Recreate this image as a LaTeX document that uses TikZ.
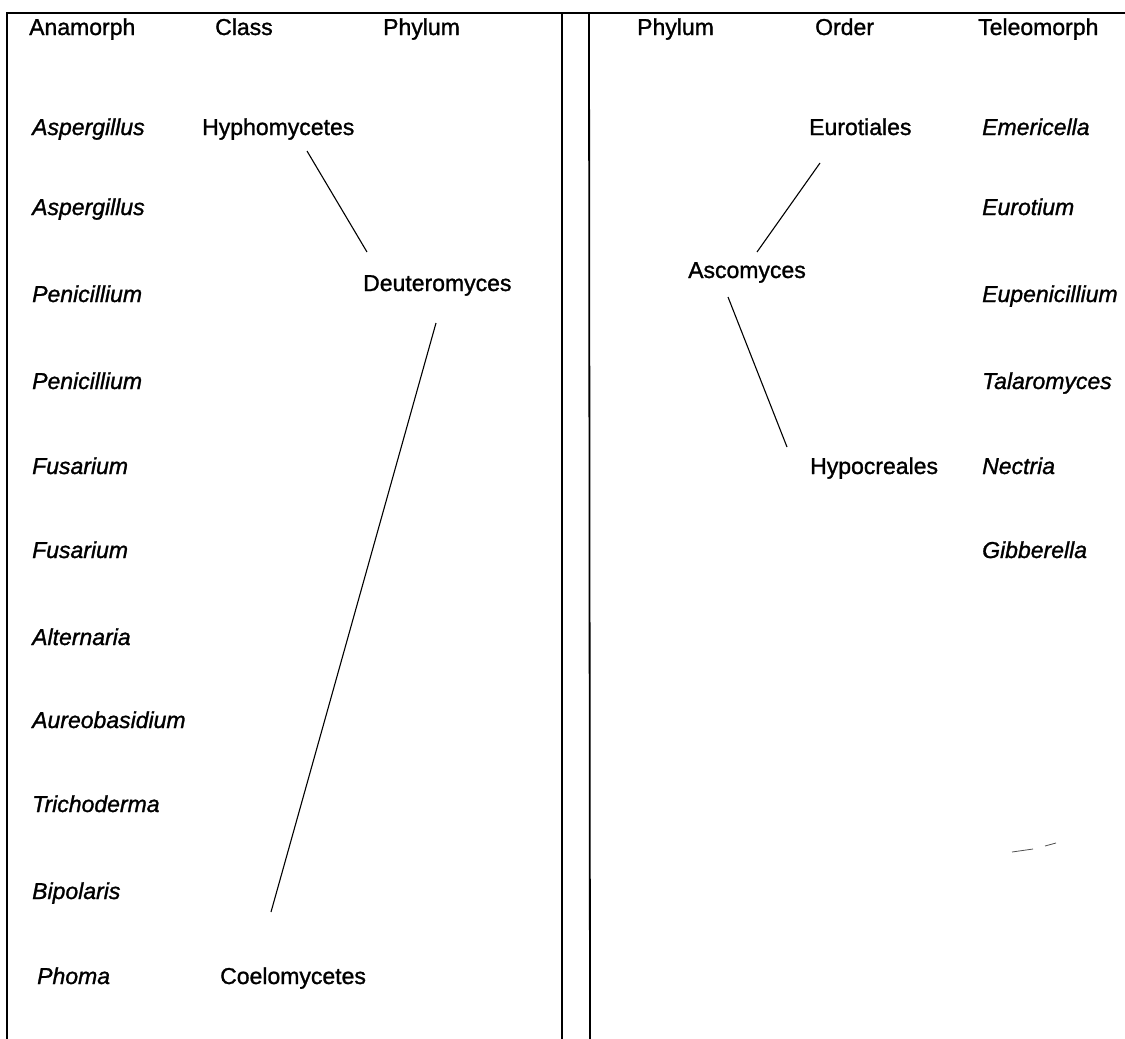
\documentclass[tikz,border=0pt]{standalone}
\usepackage{fontspec}
\setmainfont{Liberation Sans}[FakeBold=1.2]
\begin{document}
\begin{tikzpicture}[x=1pt,y=-1pt,
  lbl/.style={anchor=base west,inner sep=0pt,font=\fontsize{23}{27}\selectfont},
  gen/.style={lbl,font=\fontsize{23}{27}\selectfont\itshape},
  rule/.style={line width=1.8pt,black},
  link/.style={line width=1.1pt,black},
  speck/.style={line width=0.8pt,black!70}]
\useasboundingbox (0,0) rectangle (1125,1039);
% frame
\draw[rule] (1125,13) -- (7,13) -- (7,1039);
\draw[rule] (562,13) -- (562,1039);
\draw[rule] (589,13) -- (590,1039);
% headers
\node[lbl] (hAna) at (29,35) {Anamorph};
\node[lbl] (hCla) at (215,35) {Class};
\node[lbl] (hPhyL) at (383,35) {Phylum};
\node[lbl] (hPhyR) at (637,35) {Phylum};
\node[lbl] (hOrd) at (815,35) {Order};
\node[lbl] (hTel) at (978,35) {Teleomorph};
% anamorph column
\node[gen] (a1) at (32,135) {Aspergillus};
\node[gen] (a2) at (32,215) {Aspergillus};
\node[gen] (a3) at (32,302) {Penicillium};
\node[gen] (a4) at (32,389) {Penicillium};
\node[gen] (a5) at (32,474) {Fusarium};
\node[gen] (a6) at (32,558) {Fusarium};
\node[gen] (a7) at (32,645) {Alternaria};
\node[gen] (a8) at (32,728) {Aureobasidium};
\node[gen] (a9) at (32,812) {Trichoderma};
\node[gen] (a10) at (32,899) {Bipolaris};
\node[gen] (a11) at (37,984) {Phoma};
% class / phylum left
\node[lbl] (hyph) at (202,135) {Hyphomycetes};
\node[lbl] (deut) at (363,291) {Deuteromyces};
\node[lbl] (coel) at (220,984) {Coelomycetes};
% right side
\node[lbl] (euro) at (809,135) {Eurotiales};
\node[lbl] (asco) at (688,278) {Ascomyces};
\node[lbl] (hypo) at (810,474) {Hypocreales};
\node[gen] (t1) at (982,135) {Emericella};
\node[gen] (t2) at (982,215) {Eurotium};
\node[gen] (t3) at (982,302) {Eupenicillium};
\node[gen] (t4) at (982,389) {Talaromyces};
\node[gen] (t5) at (982,474) {Nectria};
\node[gen] (t6) at (982,558) {Gibberella};
% connector end points
\coordinate (hyphE) at (307,151);
\coordinate (deutN) at (367,252);
\coordinate (deutS) at (436,323);
\coordinate (coelN) at (271,912);
\coordinate (euroS) at (820,163);
\coordinate (ascoN) at (757,252);
\coordinate (ascoS) at (728,297);
\coordinate (hypoN) at (787,447);
\draw[link] (hyphE) -- (deutN);
\draw[link] (deutS) -- (coelN);
\draw[link] (euroS) -- (ascoN);
\draw[link] (ascoS) -- (hypoN);
% scan specks
\draw[speck] (1012,852) -- (1033,849);
\draw[speck] (1045,846) -- (1056,843);
\end{tikzpicture}
\end{document}
